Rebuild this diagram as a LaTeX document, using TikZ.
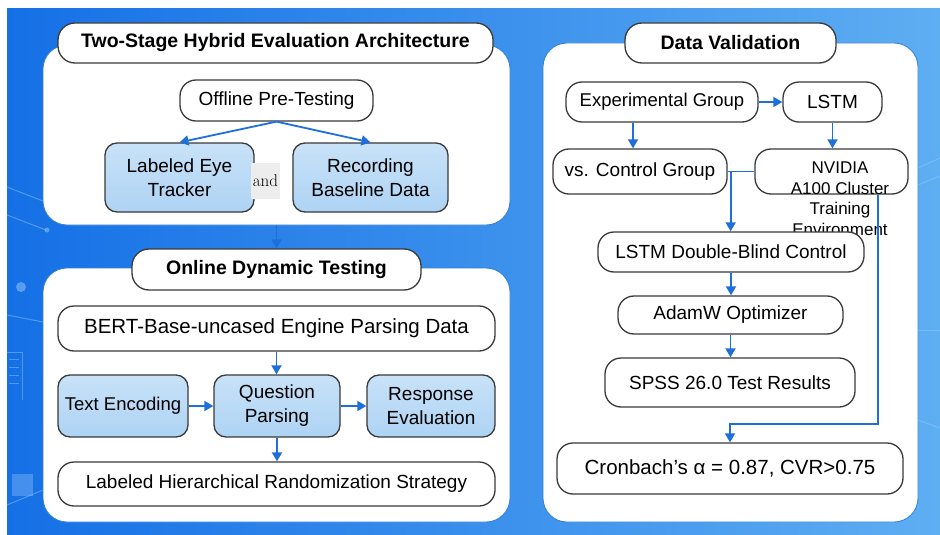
\documentclass[tikz,border=0pt]{standalone}
\usepackage{fontspec}
\setsansfont{Liberation Sans}
\renewcommand\familydefault{\sfdefault}
\usetikzlibrary{arrows.meta,calc}

\definecolor{bgL}{HTML}{1570E6}
\definecolor{bgR}{HTML}{5EAEF2}
\definecolor{boxtop}{HTML}{C8E2F8}
\definecolor{boxbot}{HTML}{AED3F4}
\definecolor{edge}{HTML}{3A3A3A}
\definecolor{arrowblue}{HTML}{1F6FDB}
\definecolor{paneledge}{HTML}{2E7FD8}
\definecolor{deco}{HTML}{9CCBF7}

\tikzset{
  panel/.style={fill=white, draw=paneledge, line width=0.8pt, rounded corners=24pt, inner sep=0pt},
  titlebox/.style={fill=white, draw=edge, line width=1.3pt, rounded corners=17pt, inner sep=0pt,
    font=\fontsize{19.5}{22}\selectfont\bfseries},
  plainbox/.style={fill=white, draw=edge, line width=1.3pt, rounded corners=16pt, inner sep=0pt,
    align=center, font=\fontsize{19}{23}\selectfont},
  bluebox/.style={top color=boxtop, bottom color=boxbot, draw=edge, line width=1.3pt, rounded corners=12pt, inner sep=0pt,
    align=center, font=\fontsize{19}{24}\selectfont},
  arr/.style={draw=arrowblue, line width=1.8pt, -{Triangle[length=9pt,width=10pt]}},
  link/.style={draw=arrowblue, line width=1.8pt},
  decoline/.style={draw=deco, line width=1pt, opacity=0.45},
}

\begin{document}
\begin{tikzpicture}[x=1pt, y=-1pt]
\useasboundingbox (0,0) rectangle (940,535);
\fill[white] (0,0) rectangle (940,535);

% backdrop
\shade[left color=bgL, right color=bgR] (7,9) rectangle (940,535);

% faint circuit-style ornaments
\draw[decoline] (7,187) -- (43,201);
\draw[decoline] (7,215) -- (46,230);
\fill[deco, opacity=0.5] (47,230) circle (2.5);
\fill[deco, opacity=0.5] (21,287) circle (5);
\draw[decoline] (7,315) -- (43,322);
\draw[decoline] (7,352) -- (22,352) -- (22,400);
\foreach \yy in {359,367,375,383} \draw[decoline] (9,\yy) -- (19,\yy);
\fill[deco, opacity=0.35] (12,474) rectangle (33,496);
\draw[decoline] (7,505) -- (43,490);
\draw[decoline] (918,168) -- (940,158);
\draw[decoline] (918,185) -- (940,176);
\draw[decoline] (918,330) -- (940,330);
\draw[decoline] (918,420) -- (940,428);

% panels
\node[panel, minimum width=467pt, minimum height=180pt] (p1) at (276.5,135) {};
\node[panel, minimum width=467pt, minimum height=254pt] (p2) at (276.5,395) {};
\node[panel, minimum width=375pt, minimum height=479pt] (p3) at (730.5,282.5) {};

% left column: offline stage
\node[titlebox, minimum width=435pt, minimum height=40pt] (t1) at (275.5,43) {Two-Stage Hybrid Evaluation Architecture};
\node[plainbox, minimum width=193pt, minimum height=41pt] (off) at (276.5,100.5) {Offline Pre-Testing};
\node[bluebox, minimum width=149pt, minimum height=69pt] (eye) at (179.5,177.5) {Labeled Eye\\Tracker};
\node[bluebox, minimum width=155pt, minimum height=69pt] (rec) at (370.5,177.5) {Recording\\Baseline Data};
\node[fill=black!7, inner sep=0pt, minimum width=29pt, minimum height=36pt,
  font=\rmfamily\fontsize{17}{20}\selectfont] (and) at (265.5,181) {and};

\draw[arr] (off.south) -- (eye.north);
\draw[arr] (off.south) -- (rec.north);

% left column: online stage
\node[titlebox, minimum width=289pt, minimum height=41pt] (t2) at (276.5,269.5) {Online Dynamic Testing};
\draw[arr] (p1.south) -- (t2.north);

\node[plainbox, minimum width=437pt, minimum height=45pt, font=\fontsize{20.5}{24}\selectfont] (bert) at (276.5,328.5) {BERT-Base-uncased Engine Parsing Data};
\node[bluebox, minimum width=130pt, minimum height=62pt, font=\fontsize{18.5}{22}\selectfont] (te) at (123,406) {Text Encoding};
\node[bluebox, minimum width=126pt, minimum height=62pt] (qp) at (277,406) {Question\\Parsing};
\node[bluebox, minimum width=128pt, minimum height=62pt] (re) at (431,406) {Response\\Evaluation};
\node[plainbox, minimum width=437pt, minimum height=44pt] (lhrs) at (276.5,484) {Labeled Hierarchical Randomization Strategy};

\draw[arr] (bert.south) -- (bert.south |- qp.north);
\draw[arr] (te.east) -- (qp.west);
\draw[arr] (qp.east) -- (re.west);
\draw[arr] (qp.south) -- (qp.south |- lhrs.north);

% right column: validation
\node[titlebox, minimum width=211pt, minimum height=40pt] (t3) at (730.5,43) {Data Validation};
\node[plainbox, minimum width=192pt, minimum height=40pt, font=\fontsize{18.5}{22}\selectfont] (exp) at (662,102) {Experimental Group};
\node[plainbox, minimum width=99pt, minimum height=40pt] (lstm) at (832.5,102) {LSTM};
\node[plainbox, minimum width=174pt, minimum height=45pt] (vs) at (640,171.5) {vs. Control Group};
\node[plainbox, minimum width=153pt, minimum height=45pt, fill=none] (nv) at (831.5,171.5) {};
\node[anchor=north, inner sep=0pt, align=center, font=\fontsize{17}{20.5}\selectfont] (nvtext) at (840,162) {NVIDIA\\A100 Cluster\\Training\\Environment};
\node[plainbox, minimum width=266pt, minimum height=40pt] (ldb) at (731,252) {LSTM Double-Blind Control};
\node[plainbox, minimum width=225pt, minimum height=38pt] (adam) at (730.5,315) {AdamW Optimizer};
\node[plainbox, minimum width=250pt, minimum height=49pt] (spss) at (730,382.5) {SPSS 26.0 Test Results};
\node[plainbox, minimum width=346pt, minimum height=51pt, font=\fontsize{20.5}{24}\selectfont] (cron) at (730,468.5) {Cronbach's α = 0.87, CVR>0.75};

\coordinate (expout) at ([xshift=-29pt]exp.south);
\coordinate (j) at ([xshift=3pt]vs.east);
\coordinate (nvout) at ([xshift=46.5pt]nv.south);

\draw[arr] (exp.east) -- (lstm.west);
\draw[arr] (expout) -- (expout |- vs.north);
\draw[arr] (lstm.south) -- (lstm.south |- nv.north);
\draw[link] (vs.east) -- (nv.west);
\draw[arr] (j) -- (j |- ldb.north);
\draw[arr] (ldb.south) -- (ldb.south |- adam.north);
\draw[arr] (adam.south) -- (adam.south |- spss.north);
\draw[arr] (nvout) -- (nvout |- 0,424) -| (cron.north);
\end{tikzpicture}
\end{document}
